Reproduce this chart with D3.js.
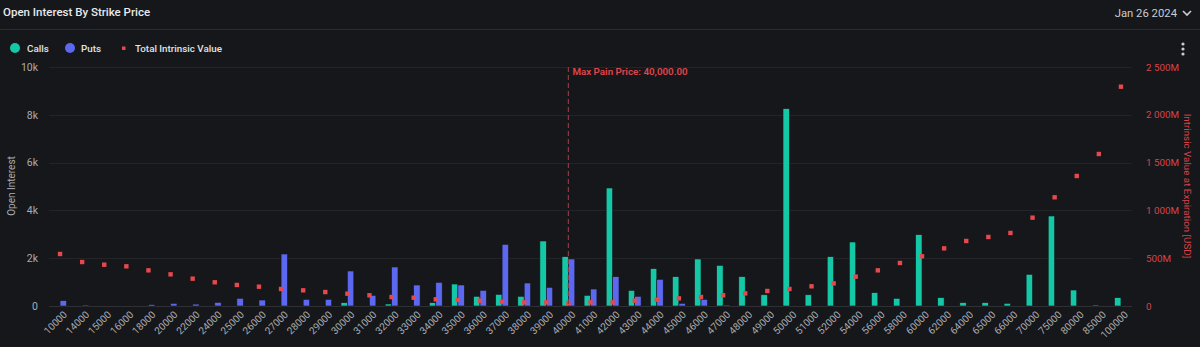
<!DOCTYPE html>
<html><head><meta charset="utf-8">
<script src="https://cdn.jsdelivr.net/npm/d3@7"></script>
<style>
html,body{margin:0;padding:0;background:#16171a;}
svg{display:block;font-family:Roboto,"Noto Sans",sans-serif;}
</style></head>
<body><svg id="c" width="1200" height="347"></svg>
<script>
const strikes = ["10000","14000","15000","16000","18000","20000","22000","24000","25000","26000","27000","28000","29000","30000","31000","32000","33000","34000","35000","36000","37000","38000","39000","40000","41000","42000","43000","44000","45000","46000","47000","48000","49000","50000","51000","52000","54000","56000","58000","60000","62000","64000","65000","66000","70000","75000","80000","85000","100000"];
const calls = [0,0,0,0,0,0,0,0,0,0,0,0,0,140,0,84,0,140,920,405,488,405,2720,2064,446,4937,655,1562,1227,1967,1701,1227,470,8257,470,2064,2678,558,320,2985,349,140,140,112,1325,3766,669,40,349];
const puts = [222,40,0,0,60,112,80,153,320,250,2176,280,280,1464,446,1632,879,990,879,655,2580,962,781,1967,711,1227,405,1116,112,280,40,0,0,0,0,0,0,0,0,0,0,0,0,0,0,0,0,0,0];
const intrinsic = [544,460,432,415,373,331,286,248,220,202,178,164,146,129,112,94,87,70,63,56,45,38,38,28,38,38,56,66,80,94,112,132,157,178,206,237,307,373,450,520,603,680,722,764,924,1137,1360,1590,2294]; // USD millions
const leftTicks = [0,2000,4000,6000,8000,10000];
const leftTickLabels = ["0","2k","4k","6k","8k","10k"];
const rightTicks = [0,500,1000,1500,2000,2500];
const rightTickLabels = ["0","500M","1 000M","1 500M","2 000M","2 500M"];
const maxPain = "40000";

const C_CALL="#14c7a6", C_PUT="#5b68ef", C_RED="#e5484d", TXT="#a9adb3";
const svg=d3.select("#c");
const W=1200,H=347;
const m={l:49,r:1132,t:67,b:306};

const x=d3.scaleBand().domain(strikes).range([m.l,m.r]).paddingInner(0.42).paddingOuter(0.21);
const xs=d3.scaleBand().domain(["calls","puts"]).range([0,x.bandwidth()]);
const y=d3.scaleLinear().domain([0,10000]).range([m.b,m.t]);
const y2=d3.scaleLinear().domain([0,2500]).range([m.b,m.t]);

// header
svg.append("text").attr("x",3).attr("y",16).attr("fill","#e8e9eb").attr("font-size",11.5).attr("font-weight",500).text("Open Interest By Strike Price");
svg.append("text").attr("x",1177).attr("y",17).attr("text-anchor","end").attr("fill","#c9ccd1").attr("font-size",11.3).text("Jan 26 2024");
svg.append("path").attr("d","M1183,11 l4,4 l4,-4").attr("fill","none").attr("stroke","#c9ccd1").attr("stroke-width",1.6);
svg.append("line").attr("x1",0).attr("x2",W).attr("y1",29.5).attr("y2",29.5).attr("stroke","#2c2d31");
[44,49,54].forEach(cy=>svg.append("circle").attr("cx",1183).attr("cy",cy).attr("r",1.6).attr("fill","#c9ccd1"));

// legend
const lg=svg.append("g").attr("font-size",9.8).attr("fill","#e2e4e7").attr("font-weight",500);
lg.append("circle").attr("cx",15).attr("cy",48).attr("r",5).attr("fill",C_CALL);
lg.append("text").attr("x",27).attr("y",51.5).text("Calls");
lg.append("circle").attr("cx",70).attr("cy",48).attr("r",5).attr("fill",C_PUT);
lg.append("text").attr("x",81).attr("y",51.5).text("Puts");
lg.append("rect").attr("x",122).attr("y",46.5).attr("width",3.5).attr("height",3.5).attr("fill",C_RED);
lg.append("text").attr("x",135).attr("y",51.5).text("Total Intrinsic Value");

// grid
svg.append("g").selectAll("line").data(leftTicks).join("line")
  .attr("x1",m.l).attr("x2",m.r).attr("y1",d=>Math.round(y(d))+0.5).attr("y2",d=>Math.round(y(d))+0.5)
  .attr("stroke",d=>d===0?"#2e3034":"#232428").attr("stroke-width",1);

// left axis
const ya=svg.append("g").attr("transform",`translate(${m.l},0)`)
  .call(d3.axisLeft(y).tickValues(leftTicks).tickFormat((d,i)=>leftTickLabels[i]).tickSize(0).tickPadding(11));
ya.select(".domain").remove();
ya.selectAll("text").attr("fill",TXT).attr("font-size",10.5).attr("font-family","Roboto,sans-serif");
svg.append("text").attr("transform","translate(15,186) rotate(-90)").attr("text-anchor","middle").attr("fill",TXT).attr("font-size",10).text("Open Interest");

// right axis
const ra=svg.append("g").attr("transform",`translate(${m.r},0)`)
  .call(d3.axisRight(y2).tickValues(rightTicks).tickFormat((d,i)=>rightTickLabels[i]).tickSize(0).tickPadding(14));
ra.select(".domain").remove();
ra.selectAll("text").attr("fill","#d9434a").attr("font-size",9.8).attr("font-family","Roboto,sans-serif");
svg.append("text").attr("transform","translate(1184,186) rotate(90)").attr("text-anchor","middle").attr("fill","#d9434a").attr("font-size",9.8).text("Intrinsic Value at Expiration [USD]");

// x axis
const xa=svg.append("g").attr("transform",`translate(0,${m.b})`).call(d3.axisBottom(x).tickSize(0).tickPadding(6));
xa.select(".domain").remove();
xa.selectAll("text").attr("fill",TXT).attr("font-size",10).attr("font-family","Roboto,sans-serif")
  .attr("text-anchor","end").attr("dx","-0.1em").attr("dy","0.6em").attr("transform","rotate(-45)");

// bars
const rows=strikes.map((s,i)=>({s,calls:calls[i],puts:puts[i],iv:intrinsic[i]}));
const g=svg.append("g");
g.selectAll("rect.c").data(rows.filter(d=>d.calls>0)).join("rect").attr("class","c")
  .attr("x",d=>x(d.s)+xs("calls")).attr("width",xs.bandwidth())
  .attr("y",d=>y(d.calls)).attr("height",d=>Math.max(1,m.b-y(d.calls)))
  .attr("fill",C_CALL).attr("stroke","#16171a").attr("stroke-width",0.6);
g.selectAll("rect.p").data(rows.filter(d=>d.puts>0)).join("rect").attr("class","p")
  .attr("x",d=>x(d.s)+xs("puts")).attr("width",xs.bandwidth())
  .attr("y",d=>y(d.puts)).attr("height",d=>Math.max(1,m.b-y(d.puts)))
  .attr("fill",C_PUT).attr("stroke","#16171a").attr("stroke-width",0.6);

// max pain line
const mpx=x(maxPain)+x.bandwidth()/2;
svg.append("line").attr("x1",mpx).attr("x2",mpx).attr("y1",m.t).attr("y2",m.b)
  .attr("stroke","#8a3a3d").attr("stroke-width",1.2).attr("stroke-dasharray","5,3");
svg.append("text").attr("x",mpx+4).attr("y",75).attr("fill","#e0454b").attr("font-size",9.8).attr("font-weight",600).text("Max Pain Price: 40,000.00");

// intrinsic value dots
g.selectAll("rect.d").data(rows).join("rect").attr("class","d")
  .attr("x",d=>x(d.s)+x.bandwidth()/2-2.2).attr("y",d=>y2(d.iv)-2.2).attr("width",4.4).attr("height",4.4)
  .attr("fill",C_RED);
</script></body></html>
